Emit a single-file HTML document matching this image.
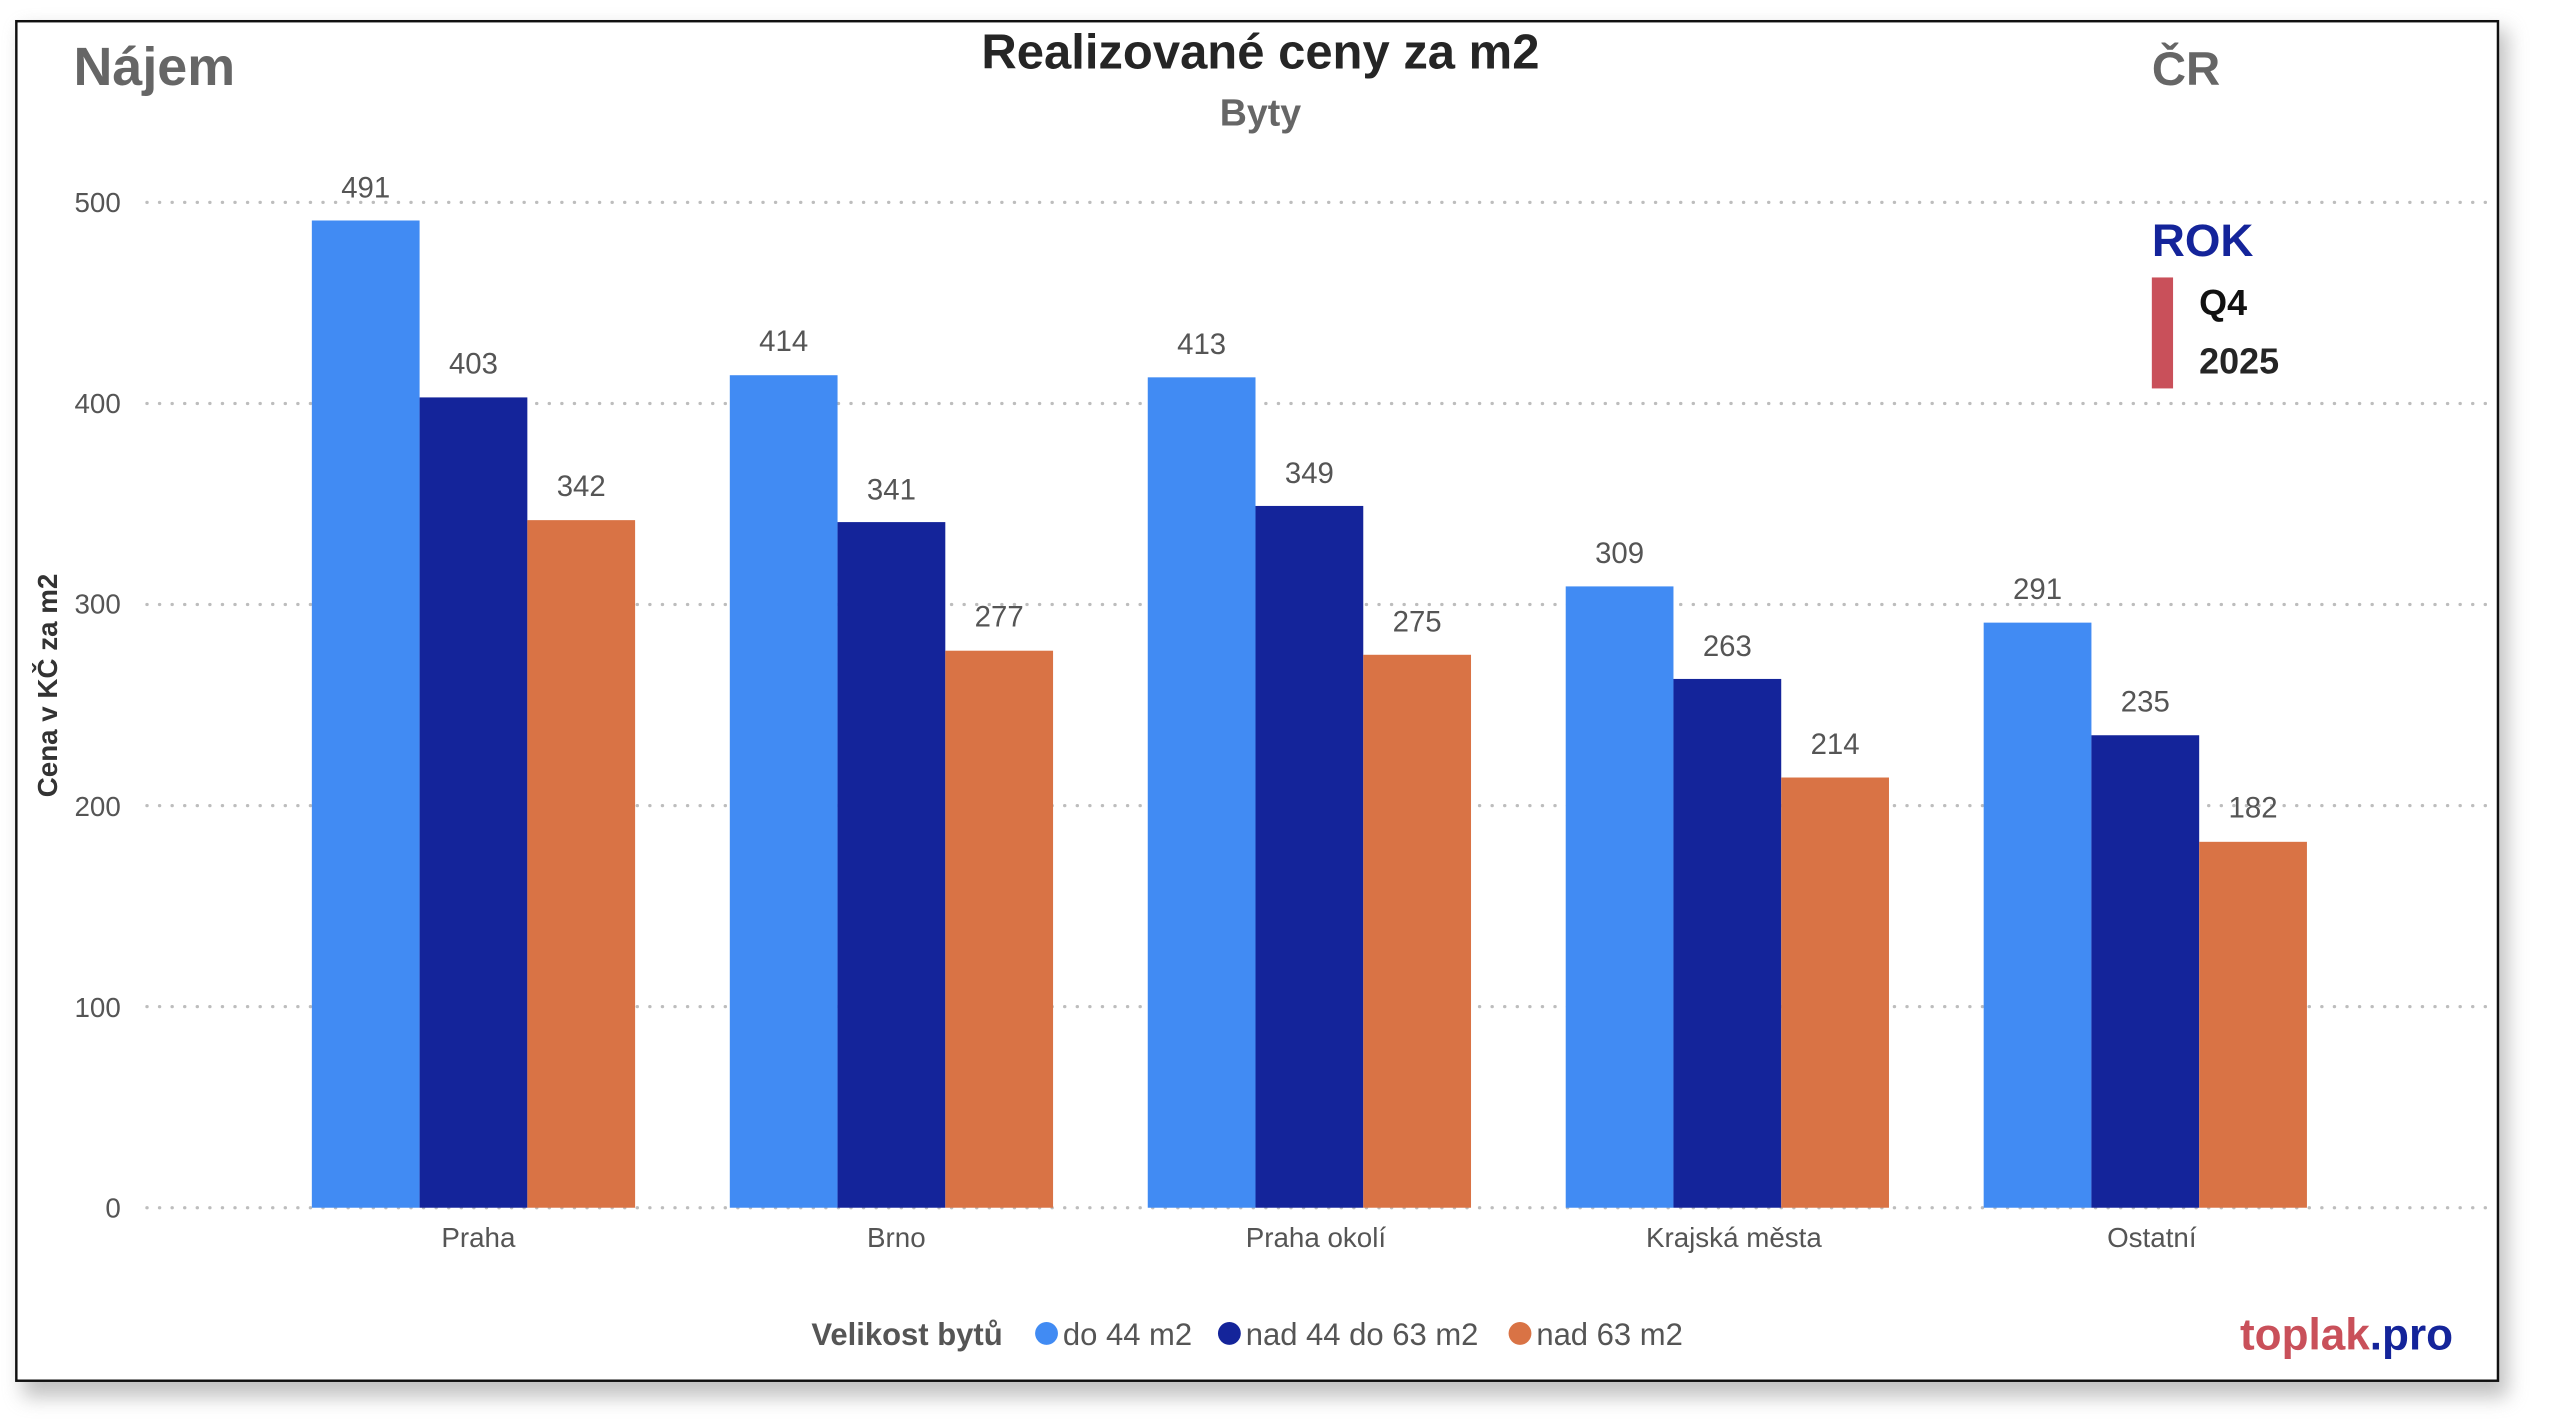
<!DOCTYPE html>
<html><head><meta charset="utf-8"><style>
html,body{margin:0;padding:0;background:#fff;}
svg{display:block;}
text{font-family:"Liberation Sans",sans-serif;}
</style></head><body>
<svg width="2560" height="1423" viewBox="0 0 1568 871.9" preserveAspectRatio="none" xmlns="http://www.w3.org/2000/svg">
<defs><filter id="sh" x="-5%" y="-5%" width="110%" height="115%"><feGaussianBlur stdDeviation="6"/></filter></defs>
<rect x="14" y="18" width="1522" height="838" fill="#999" opacity="0.6" filter="url(#sh)"/>
<rect x="10" y="13" width="1520" height="833" fill="#fff" stroke="#111" stroke-width="1.5"/>
<g stroke="#bdbdbd" stroke-width="2" stroke-dasharray="0.1 7.6" stroke-linecap="round">
<line x1="90" y1="124" x2="1525" y2="124"/><line x1="90" y1="247.2" x2="1525" y2="247.2"/>
<line x1="90" y1="370.4" x2="1525" y2="370.4"/><line x1="90" y1="493.6" x2="1525" y2="493.6"/>
<line x1="90" y1="616.8" x2="1525" y2="616.8"/><line x1="90" y1="740" x2="1525" y2="740"/>
</g>
<g font-size="17" fill="#555" text-anchor="end">
<text x="74" y="130">500</text><text x="74" y="253">400</text><text x="74" y="376">300</text>
<text x="74" y="500">200</text><text x="74" y="623">100</text><text x="74" y="746">0</text>
</g>
<text transform="translate(35,420) rotate(-90)" text-anchor="middle" font-size="17" font-weight="bold" fill="#333">Cena v KČ za m2</text>
<text x="45" y="52" font-size="33" font-weight="bold" fill="#666">Nájem</text>
<text x="772" y="42" font-size="30" font-weight="bold" fill="#252525" text-anchor="middle">Realizované ceny za m2</text>
<text x="772" y="77" font-size="23" font-weight="bold" fill="#666" text-anchor="middle">Byty</text>
<text x="1318" y="52" font-size="29" font-weight="bold" fill="#666">ČR</text>
<text x="1318" y="157" font-size="28" font-weight="bold" fill="#14249a">ROK</text>
<rect x="1318" y="170" width="13" height="68" fill="#c9505a"/>
<text x="1347" y="193" font-size="22" font-weight="bold" fill="#111">Q4</text>
<text x="1347" y="229" font-size="22" font-weight="bold" fill="#252525">2025</text>
<g>
<rect x="191" y="135.1" width="66" height="604.9" fill="#418bf3"/><rect x="257" y="243.5" width="66" height="496.5" fill="#14249a"/><rect x="323" y="318.7" width="66" height="421.3" fill="#d97345"/>
<rect x="447" y="229.9" width="66" height="510.1" fill="#418bf3"/><rect x="513" y="319.9" width="66" height="420.1" fill="#14249a"/><rect x="579" y="398.7" width="66" height="341.3" fill="#d97345"/>
<rect x="703" y="231.2" width="66" height="508.8" fill="#418bf3"/><rect x="769" y="310" width="66" height="430" fill="#14249a"/><rect x="835" y="401.2" width="66" height="338.8" fill="#d97345"/>
<rect x="959" y="359.3" width="66" height="380.7" fill="#418bf3"/><rect x="1025" y="416" width="66" height="324" fill="#14249a"/><rect x="1091" y="476.4" width="66" height="263.6" fill="#d97345"/>
<rect x="1215" y="381.5" width="66" height="358.5" fill="#418bf3"/><rect x="1281" y="450.5" width="66" height="289.5" fill="#14249a"/><rect x="1347" y="515.8" width="66" height="224.2" fill="#d97345"/>
</g>
<g font-size="18" fill="#555" text-anchor="middle">
<text x="224" y="121">491</text><text x="290" y="229">403</text><text x="356" y="304">342</text>
<text x="480" y="215">414</text><text x="546" y="306">341</text><text x="612" y="384">277</text>
<text x="736" y="217">413</text><text x="802" y="296">349</text><text x="868" y="387">275</text>
<text x="992" y="345">309</text><text x="1058" y="402">263</text><text x="1124" y="462">214</text>
<text x="1248" y="367">291</text><text x="1314" y="436">235</text><text x="1380" y="501">182</text>
</g>
<g font-size="17" fill="#555" text-anchor="middle">
<text x="293" y="764">Praha</text><text x="549" y="764">Brno</text><text x="806" y="764">Praha okolí</text>
<text x="1062" y="764">Krajská města</text><text x="1318" y="764">Ostatní</text>
</g>
<text x="497" y="824" font-size="19" font-weight="bold" fill="#555">Velikost bytů</text>
<circle cx="641" cy="817" r="7" fill="#418bf3"/><text x="651" y="824" font-size="19" fill="#555">do 44 m2</text>
<circle cx="753" cy="817" r="7" fill="#14249a"/><text x="763" y="824" font-size="19" fill="#555">nad 44 do 63 m2</text>
<circle cx="931" cy="817" r="7" fill="#d97345"/><text x="941" y="824" font-size="19" fill="#555">nad 63 m2</text>
<text x="1372" y="827" font-size="27" font-weight="bold"><tspan fill="#c9505a">toplak</tspan><tspan fill="#14249a">.pro</tspan></text>
</svg>
</body></html>
